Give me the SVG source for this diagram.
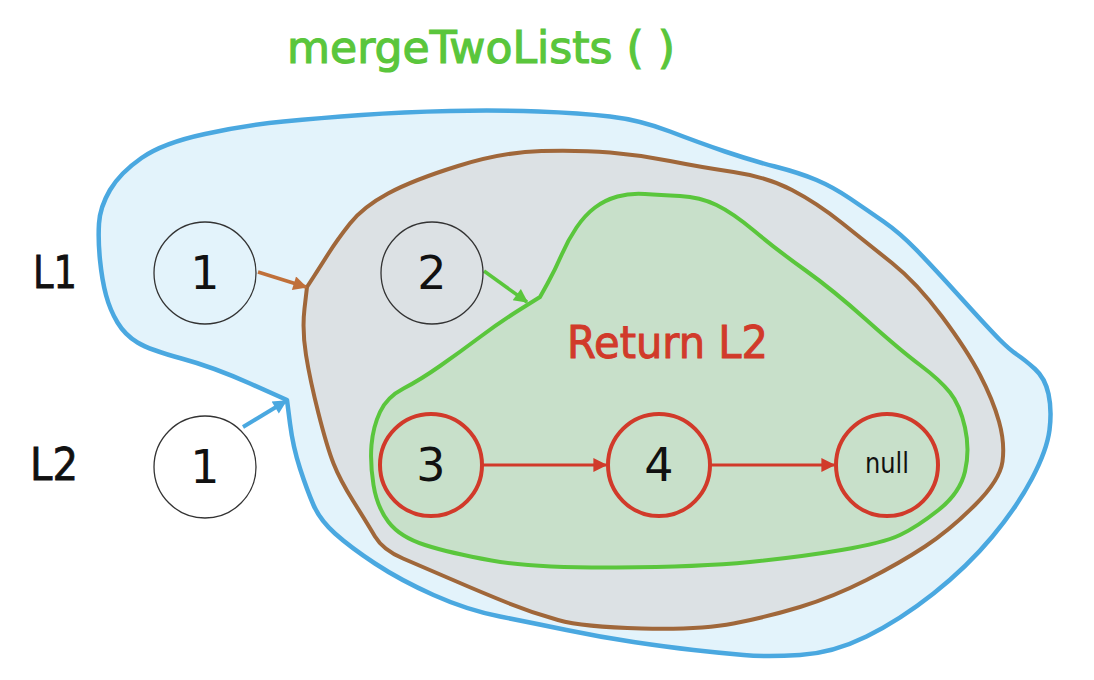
<svg xmlns="http://www.w3.org/2000/svg" width="1094" height="680" viewBox="0 0 1094 680">
<defs>
<style>
.txt{font-family:"DejaVu Sans","Noto Sans",sans-serif;}
.lbl{font-size:44px;fill:#111;}
.num{font-size:46px;fill:#111;text-anchor:middle;}
.ring{fill:none;stroke:#333;stroke-width:1.3;}
.rring{fill:none;stroke:#d13a2a;stroke-width:4;}
.outline{stroke-linejoin:round;stroke-linecap:round;}
</style>
<marker id="hBrown" viewBox="0 0 10 10" refX="9" refY="5" markerWidth="16" markerHeight="14" markerUnits="userSpaceOnUse" orient="auto"><path d="M0,0 L10,5 L0,10 Z" fill="#c0703a"/></marker>
<marker id="hGreen" viewBox="0 0 10 10" refX="9" refY="5" markerWidth="16" markerHeight="14" markerUnits="userSpaceOnUse" orient="auto"><path d="M0,0 L10,5 L0,10 Z" fill="#5ac63c"/></marker>
<marker id="hBlue" viewBox="0 0 10 10" refX="9" refY="5" markerWidth="16" markerHeight="14" markerUnits="userSpaceOnUse" orient="auto"><path d="M0,0 L10,5 L0,10 Z" fill="#4aa8e0"/></marker>
<marker id="hRed" viewBox="0 0 10 10" refX="9" refY="5" markerWidth="16" markerHeight="14" markerUnits="userSpaceOnUse" orient="auto"><path d="M0,0 L10,5 L0,10 Z" fill="#d13a2a"/></marker>
</defs>
<rect width="1094" height="680" fill="#ffffff"/>

<g id="scope-merge">
<path class="outline" fill="#e3f3fb" stroke="#4aa8e0" stroke-width="4.5" d="M287,400 L290,423.5 Q293,447 300,468.5 Q307,490 313.5,505 Q320,520 335,533.5 Q350,547 375,563.5 Q400,580 433.5,595 Q467,610 500,616.5 Q533,623 566.5,630 Q600,637 633.5,642 Q667,647 693.5,650 Q720,653 743.5,655 Q767,657 800,655 Q833,653 866.5,636.5 Q900,620 933.5,593.5 Q967,567 992,537 Q1017,507 1032,478.5 Q1047,450 1049.5,430 Q1052,410 1048.5,394 Q1045,378 1035,369 Q1025,360 1017.5,355 Q1010,350 1000,340 Q990,330 961.5,298.5 Q933,267 916.5,250 Q900,233 883.5,221.5 Q867,210 850,198.5 Q833,187 816.5,180 Q800,173 775,166.5 Q750,160 725,151.5 Q700,143 670,131.5 Q640,120 610,116.5 Q580,113 538.5,111.5 Q497,110 450,111 Q403,112 361.5,115 Q320,118 283.5,121.5 Q247,125 205,134 Q163,143 141.5,158 Q120,173 110,190 Q100,207 99,223.5 Q98,240 100,260 Q102,280 106,295 Q110,310 117.5,322.5 Q125,335 137.5,342.5 Q150,350 181.5,358.5 Q213,367 250,383.5 L287,400 Z"/>
</g>

<g id="scope-inner">
<path class="outline" fill="#dce1e4" stroke="#a0673a" stroke-width="4" d="M307,287 L313.5,277 Q320,267 328.5,253.5 Q337,240 350,223.5 Q363,207 388,193.5 Q413,180 458,166 Q503,152 541.5,151 Q580,150 610,152.5 Q640,155 670,161 Q700,167 733.5,172 Q767,177 792,190 Q817,203 842,223 Q867,243 892,263 Q917,283 942,316.5 Q967,350 980,375 Q993,400 999,421.5 Q1005,443 1002.5,461.5 Q1000,480 975,505 Q950,530 925,546.5 Q900,563 866.5,580 Q833,597 800,607 Q767,617 733.5,623.5 Q700,630 641.5,628.5 Q583,627 558,620 Q533,613 508,603 Q483,593 453,580 Q423,567 403,558.5 Q383,550 375,536.5 Q367,523 353.5,501.5 Q340,480 333.5,463.5 Q327,447 318.5,413.5 Q310,380 306,355 Q302,330 304.5,308.5 L307,287 Z"/>
</g>

<g id="scope-return">
<path class="outline" fill="#c8e0ca" stroke="#5ac63c" stroke-width="4" d="M540,297 L547.5,283.5 Q555,270 561.5,255 Q568,240 576.5,227.5 Q585,215 595,207.5 Q605,200 617.5,196.5 Q630,193 645,194 Q660,195 680,196 Q700,197 716.5,205 Q733,213 755,231.5 Q777,250 805,270 Q833,290 866.5,320 Q900,350 920,365 Q940,380 950,392.5 Q960,405 965,427.5 Q970,450 965,471.5 Q960,493 938.5,510 Q917,527 900,535 Q883,543 841.5,550 Q800,557 750,562 Q700,567 616.5,567.5 Q533,568 491.5,560.5 Q450,553 425,545 Q400,537 388.5,522 Q377,507 373.5,485 Q370,463 371.5,445 Q373,427 380,412 Q387,397 403.5,388.5 Q420,380 440,366 Q460,352 480,337 Q500,322 520,309.5 L540,297 Z"/>
</g>

<g id="connectors">
<line x1="258" y1="272" x2="306" y2="287" stroke="#c0703a" stroke-width="3.5" marker-end="url(#hBrown)"/>
<line x1="484" y1="271" x2="527" y2="302" stroke="#5ac63c" stroke-width="3.5" marker-end="url(#hGreen)"/>
<line x1="243" y1="427" x2="286" y2="401" stroke="#4aa8e0" stroke-width="4" marker-end="url(#hBlue)"/>
<line x1="483" y1="465" x2="606" y2="465" stroke="#d13a2a" stroke-width="3" marker-end="url(#hRed)"/>
<line x1="711" y1="465" x2="834" y2="465" stroke="#d13a2a" stroke-width="3" marker-end="url(#hRed)"/>
</g>

<g id="title"><text class="txt" x="287" y="63" font-size="44" fill="#5ac63c" stroke="#5ac63c" stroke-width="1.2" textLength="388" lengthAdjust="spacingAndGlyphs">mergeTwoLists ( )</text></g>
<g id="label-L1"><text class="txt lbl" x="33" y="288" stroke="#111" stroke-width="0.8" textLength="44" lengthAdjust="spacingAndGlyphs">L1</text></g>
<g id="label-L2"><text class="txt lbl" x="30" y="480" stroke="#111" stroke-width="0.8" textLength="48" lengthAdjust="spacingAndGlyphs">L2</text></g>
<g id="label-return"><text class="txt" x="567" y="358" font-size="44" fill="#d13a2a" stroke="#d13a2a" stroke-width="1" textLength="201" lengthAdjust="spacingAndGlyphs">Return L2</text></g>

<g id="node-l1-1"><circle class="ring" cx="205" cy="273" r="51"/><text class="txt num" x="205" y="289">1</text></g>
<g id="node-l1-2"><circle class="ring" cx="432" cy="273" r="51"/><text class="txt num" x="432" y="289">2</text></g>
<g id="node-l2-1"><circle class="ring" cx="205" cy="467" r="51" fill="#ffffff"/><text class="txt num" x="205" y="483">1</text></g>
<g id="node-3"><circle class="rring" cx="431" cy="465" r="51"/><text class="txt num" x="431" y="481">3</text></g>
<g id="node-4"><circle class="rring" cx="659" cy="465" r="51"/><text class="txt num" x="659" y="481">4</text></g>
<g id="node-null"><circle class="rring" cx="887" cy="465" r="51"/><text class="txt" x="865" y="473" font-size="28" fill="#111" textLength="44" lengthAdjust="spacingAndGlyphs">null</text></g>
</svg>
